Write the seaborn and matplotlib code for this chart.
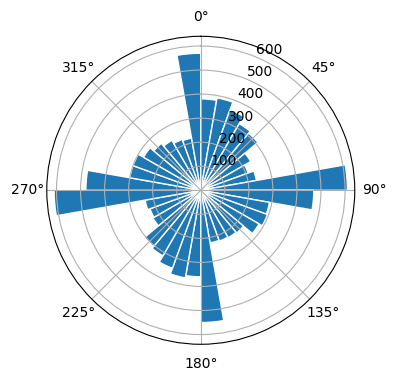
import numpy as np
import matplotlib
matplotlib.use('Agg')
import matplotlib.pyplot as plt
import seaborn as sns

# direction bins (start of each 10 degree sector) and counts
directions = list(range(0, 360, 10))
counts = [380, 390, 355, 320, 310, 240, 210, 235, 610,
          470, 290, 295, 280, 232, 228, 225, 222, 550,
          360, 370, 345, 315, 305, 230, 225, 235, 610,
          478, 300, 300, 275, 255, 240, 225, 220, 570]

color = sns.color_palette("tab10")[0]

fig = plt.figure(figsize=(3.96, 3.80), dpi=100)
ax = fig.add_axes([0.118, 0.094, 0.778, 0.8105], projection='polar')
ax.set_theta_zero_location('N')
ax.set_theta_direction(-1)

theta = np.deg2rad(directions)
ax.bar(theta, counts, width=np.deg2rad(10), align='edge', color=color,
       edgecolor='white', linewidth=1)

fig.savefig('out.png', dpi=100)
